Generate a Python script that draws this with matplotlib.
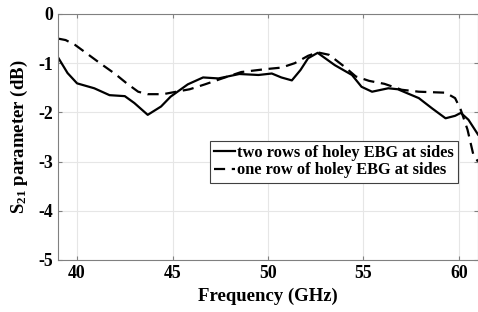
import matplotlib
matplotlib.use("Agg")
import matplotlib.pyplot as plt

# 読み取った値
freq_two = [39.0, 39.5, 40.0, 40.9, 41.7, 42.5, 43.0, 43.7, 44.4, 44.9, 45.8, 46.6,
            47.4, 48.5, 49.5, 50.2, 50.7, 51.25, 51.7, 52.1, 52.6, 53.5, 54.4, 54.9,
            55.45, 56.3, 56.8, 57.9, 58.6, 59.3, 59.8, 60.1, 60.5, 61.0]
s21_two = [-0.88, -1.2, -1.41, -1.51, -1.65, -1.67, -1.81, -2.05, -1.88, -1.68, -1.43, -1.29,
           -1.31, -1.22, -1.24, -1.21, -1.29, -1.35, -1.14, -0.90, -0.79, -1.04, -1.24, -1.48,
           -1.58, -1.51, -1.53, -1.71, -1.92, -2.12, -2.07, -2.01, -2.15, -2.45]

freq_one = [39.0, 39.4, 39.9, 40.5, 41.2, 42.0, 42.6, 43.2, 43.7, 44.5, 45.2, 45.9,
            46.7, 47.6, 48.6, 49.9, 50.7, 51.4, 52.1, 52.6, 53.2, 54.0, 54.6, 55.3,
            56.1, 57.0, 57.9, 59.3, 59.8, 60.1, 60.45, 60.75, 61.0]
s21_one = [-0.50, -0.53, -0.63, -0.80, -1.00, -1.22, -1.41, -1.58, -1.63, -1.63, -1.58, -1.53,
           -1.43, -1.31, -1.18, -1.12, -1.09, -1.00, -0.85, -0.78, -0.83, -1.07, -1.27, -1.36,
           -1.42, -1.54, -1.58, -1.60, -1.71, -1.95, -2.35, -2.85, -3.0]

xticks = [40, 45, 50, 55, 60]
yticks = [0, -1, -2, -3, -4, -5]

plt.rcParams['font.family'] = ['Liberation Serif', 'DejaVu Serif']
plt.rcParams['font.weight'] = 'bold'
plt.rcParams['mathtext.default'] = 'regular'

fig = plt.figure(figsize=(4.78, 3.12), dpi=100)
ax = fig.add_axes([0.1213, 0.1667, 0.8787, 0.7885])

ax.plot(freq_two, s21_two, color='black', lw=1.6, label='two rows of holey EBG at sides')
ax.plot(freq_one, s21_one, color='black', lw=1.6, linestyle=(0, (5, 3)),
        label='one row of holey EBG at sides')

ax.set_xlim(39, 61)
ax.set_ylim(-5, 0)
ax.set_xticks(xticks)
ax.set_yticks(yticks)
ax.set_yticklabels(['0', '-1', '-2', '-3', '-4', '-5'])
ax.grid(True, color='#e6e6e6', lw=0.8)
ax.set_axisbelow(True)
ax.tick_params(direction='in', top=True, right=True, labelsize=12.8,
               color='#808080', length=3, width=0.8)
for s in ax.spines.values():
    s.set_color('#808080')
    s.set_linewidth(0.8)

ax.set_xlabel('Frequency (GHz)', fontsize=13.5, fontweight='bold', labelpad=4)
ax.set_ylabel('S$_{21}$ parameter (dB)', fontsize=13.5, fontweight='bold', labelpad=6)

leg = ax.legend(loc='upper left', bbox_to_anchor=(0.362, 0.485), fontsize=11.8,
                frameon=True, fancybox=False, handlelength=1.3, handletextpad=0.1,
                borderpad=0.25, labelspacing=0.1, borderaxespad=0)
leg.get_frame().set_edgecolor('#404040')
leg.get_frame().set_linewidth(0.8)
leg.get_frame().set_alpha(1)

fig.savefig('out.png', dpi=100)
